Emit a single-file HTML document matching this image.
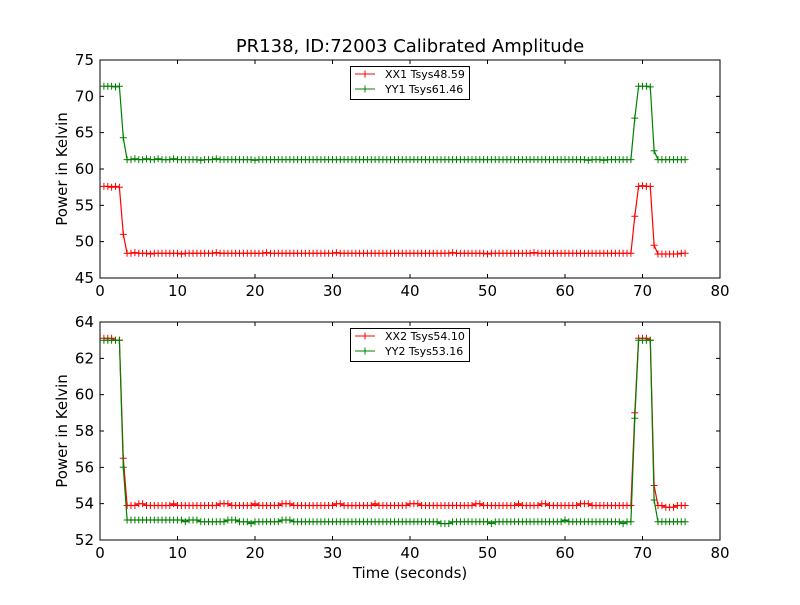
<!DOCTYPE html>
<html><head><meta charset="utf-8"><style>
body{margin:0;background:#fff;}
svg text{font-family:"DejaVu Sans","Liberation Sans",sans-serif;}
</style></head><body>
<svg id="fig" width="800" height="600" xmlns="http://www.w3.org/2000/svg">
<rect width="800" height="600" fill="#fff"/>
<text x="410" y="52" font-size="18" text-anchor="middle">PR138, ID:72003 Calibrated Amplitude</text>
<g id="top"></g>
<g id="bot"></g>
<text x="410" y="578" font-size="15" text-anchor="middle">Time (seconds)</text>
<text transform="translate(67,169) rotate(-90)" font-size="15" text-anchor="middle">Power in Kelvin</text>
<text transform="translate(67,431) rotate(-90)" font-size="15" text-anchor="middle">Power in Kelvin</text>
</svg>
<script>
const xTicks=[0,10,20,30,40,50,60,70,80];
const topTicks=[45,50,55,60,65,70,75];
const botTicks=[52,54,56,58,60,62,64];
const sampleStep=0.5;
const xx1=[57.6,57.6,57.5,57.6,57.5,51.0,
48.4,48.4,48.5,48.4,48.4,48.4,48.3,48.4,48.4,48.4,
48.4,48.4,48.4,48.4,48.3,48.4,48.4,48.4,48.4,48.4,
48.4,48.4,48.4,48.5,48.4,48.4,48.4,48.4,48.4,48.4,
48.4,48.4,48.4,48.4,48.4,48.4,48.5,48.4,48.4,48.4,
48.4,48.4,48.4,48.4,48.4,48.4,48.4,48.4,48.4,48.4,
48.4,48.4,48.4,48.4,48.5,48.4,48.4,48.4,48.4,48.4,
48.4,48.4,48.4,48.4,48.4,48.4,48.4,48.4,48.4,48.4,
48.4,48.4,48.4,48.4,48.4,48.4,48.4,48.4,48.4,48.4,
48.4,48.4,48.4,48.4,48.5,48.4,48.4,48.4,48.4,48.4,
48.4,48.4,48.4,48.3,48.4,48.4,48.4,48.4,48.4,48.4,
48.4,48.4,48.4,48.4,48.4,48.5,48.4,48.4,48.4,48.4,
48.4,48.4,48.4,48.4,48.4,48.4,48.4,48.4,48.4,48.4,
48.4,48.4,48.4,48.4,48.4,48.4,48.4,48.4,48.4,48.4,
48.4,
53.5,57.6,57.7,57.6,57.6,49.5,
48.3,48.3,48.3,48.3,48.3,48.3,48.4,48.4];
const yy1=[71.4,71.4,71.4,71.3,71.4,64.3,
61.3,61.3,61.4,61.3,61.3,61.4,61.3,61.3,61.4,61.3,
61.3,61.3,61.4,61.3,61.3,61.3,61.3,61.3,61.3,61.2,
61.3,61.3,61.3,61.4,61.3,61.3,61.3,61.3,61.3,61.3,
61.3,61.3,61.3,61.2,61.3,61.3,61.3,61.3,61.3,61.3,
61.3,61.3,61.3,61.3,61.3,61.3,61.3,61.3,61.3,61.3,
61.3,61.3,61.3,61.3,61.3,61.3,61.3,61.3,61.3,61.3,
61.3,61.3,61.3,61.3,61.3,61.3,61.3,61.3,61.3,61.3,
61.3,61.3,61.3,61.3,61.3,61.3,61.3,61.3,61.3,61.3,
61.3,61.3,61.3,61.3,61.3,61.3,61.3,61.3,61.3,61.3,
61.3,61.3,61.3,61.3,61.3,61.3,61.3,61.3,61.3,61.3,
61.3,61.3,61.3,61.3,61.3,61.3,61.3,61.3,61.3,61.3,
61.3,61.3,61.3,61.3,61.3,61.3,61.3,61.3,61.3,61.2,
61.3,61.3,61.3,61.2,61.3,61.3,61.3,61.3,61.3,61.3,
61.3,
67.0,71.4,71.4,71.4,71.3,62.5,
61.3,61.3,61.3,61.3,61.3,61.3,61.3,61.3];
const xx2=[63.1,63.1,63.1,63.0,63.0,56.5,
53.9,53.9,53.9,54.0,54.0,53.9,53.9,53.9,53.9,53.9,
53.9,53.9,54.0,53.9,53.9,53.9,53.9,53.9,53.9,53.9,
53.9,53.9,53.9,53.9,54.0,54.0,54.0,53.9,53.9,53.9,
53.9,53.9,53.9,54.0,53.9,53.9,53.9,53.9,53.9,53.9,
54.0,54.0,54.0,53.9,53.9,53.9,53.9,53.9,53.9,53.9,
53.9,53.9,53.9,53.9,54.0,54.0,53.9,53.9,53.9,53.9,
53.9,53.9,53.9,53.9,54.0,53.9,53.9,53.9,53.9,53.9,
53.9,53.9,53.9,54.0,54.0,54.0,53.9,53.9,53.9,53.9,
53.9,53.9,53.9,53.9,53.9,53.9,53.9,53.9,53.9,53.9,
54.0,54.0,53.9,53.9,53.9,53.9,53.9,53.9,53.9,53.9,
53.9,54.0,53.9,53.9,53.9,53.9,53.9,54.0,54.0,53.9,
53.9,53.9,53.9,53.9,53.9,53.9,53.9,54.0,54.0,54.0,
53.9,53.9,53.9,53.9,53.9,53.9,53.9,53.9,53.9,53.9,
53.9,
59.0,63.1,63.1,63.1,63.0,55.0,
53.9,53.9,53.8,53.8,53.8,53.9,53.9,53.9];
const yy2=[63.0,63.0,63.0,63.0,63.0,56.0,
53.1,53.1,53.1,53.1,53.1,53.1,53.1,53.1,53.1,53.1,
53.1,53.1,53.1,53.1,53.1,53.0,53.1,53.1,53.1,53.0,
53.0,53.0,53.0,53.0,53.0,53.0,53.1,53.1,53.1,53.0,
53.0,53.0,52.9,53.0,53.0,53.0,53.0,53.0,53.0,53.0,
53.1,53.1,53.1,53.0,53.0,53.0,53.0,53.0,53.0,53.0,
53.0,53.0,53.0,53.0,53.0,53.0,53.0,53.0,53.0,53.0,
53.0,53.0,53.0,53.0,53.0,53.0,53.0,53.0,53.0,53.0,
53.0,53.0,53.0,53.0,53.0,53.0,53.0,53.0,53.0,53.0,
53.0,52.9,52.9,52.9,53.0,53.0,53.0,53.0,53.0,53.0,
53.0,53.0,53.0,53.0,52.9,53.0,53.0,53.0,53.0,53.0,
53.0,53.0,53.0,53.0,53.0,53.0,53.0,53.0,53.0,53.0,
53.0,53.0,53.0,53.1,53.0,53.0,53.0,53.0,53.0,53.0,
53.0,53.0,53.0,53.0,53.0,53.0,53.0,53.0,52.9,53.0,
53.0,
58.7,63.0,63.0,63.0,63.0,54.2,
53.0,53.0,53.0,53.0,53.0,53.0,53.0,53.0];
const legendTop=["XX1 Tsys48.59","YY1 Tsys61.46"];
const legendBot=["XX2 Tsys54.10","YY2 Tsys53.16"];

const NS="http://www.w3.org/2000/svg";
function mk(p,tag,attrs){const e=document.createElementNS(NS,tag);for(const k in attrs)e.setAttribute(k,attrs[k]);p.appendChild(e);return e;}
const L=100,R=720;
function xs(t){return L+(t-0)/(80-0)*(R-L);}
function panel(g,top,bottom,ticks,series,colors,legend,name){
  const lo=ticks[0],hi=ticks[ticks.length-1];
  const ys=v=>bottom-(v-lo)/(hi-lo)*(bottom-top);
  series.forEach((s,si)=>{
    let d="";
    s.forEach((v,i)=>{const t=(i+1)*sampleStep;d+=(i?"L":"M")+xs(t).toFixed(1)+","+ys(v).toFixed(1);});
    const p=mk(g,"path",{d:d,fill:"none",stroke:colors[si],"stroke-width":1.2});
    
    
    let m="";
    s.forEach((v,i)=>{const x=xs((i+1)*sampleStep),y=ys(v);m+=`M${(x-3.5).toFixed(1)},${y.toFixed(1)}h7M${x.toFixed(1)},${(y-3.5).toFixed(1)}v7`;});
    const mp=mk(g,"path",{d:m,fill:"none",stroke:colors[si],"stroke-width":1});
    
    
  });
  const fr=mk(g,"rect",{x:L,y:top,width:R-L,height:bottom-top,fill:"none",stroke:"#000","stroke-width":1});
  
  
  xTicks.forEach(t=>{const x=xs(t);
    mk(g,"path",{d:`M${x},${bottom}v-4M${x},${top}v4`,stroke:"#000"});
    const tx=mk(g,"text",{x:x,y:bottom+18,"font-size":15,"text-anchor":"middle"});tx.textContent=t;
    
    
  });
  ticks.forEach(v=>{const y=ys(v);
    mk(g,"path",{d:`M${L},${y}h4M${R},${y}h-4`,stroke:"#000"});
    const tx=mk(g,"text",{x:L-6,y:y+5,"font-size":15,"text-anchor":"end"});tx.textContent=v;
    
    
  });
  const lg=mk(g,"g",{});
  
  
  mk(lg,"rect",{x:350.5,y:top+6.5,width:119,height:33,fill:"#fff",stroke:"#000"});
  legend.forEach((lab,i)=>{const y=top+14+i*15;
    mk(lg,"path",{d:`M355,${y}h20M361.5,${y}h7M365,${y-3.5}v7`,stroke:colors[i]});
    const tx=mk(lg,"text",{x:385,y:y+4,"font-size":11});tx.textContent=lab;
    
    
  });
}
panel(document.getElementById('top'),60,278,topTicks,[xx1,yy1],["#ff0000","#008000"],legendTop,"top");
panel(document.getElementById('bot'),322,540,botTicks,[xx2,yy2],["#ff0000","#008000"],legendBot,"bottom");
</script>
</body></html>
